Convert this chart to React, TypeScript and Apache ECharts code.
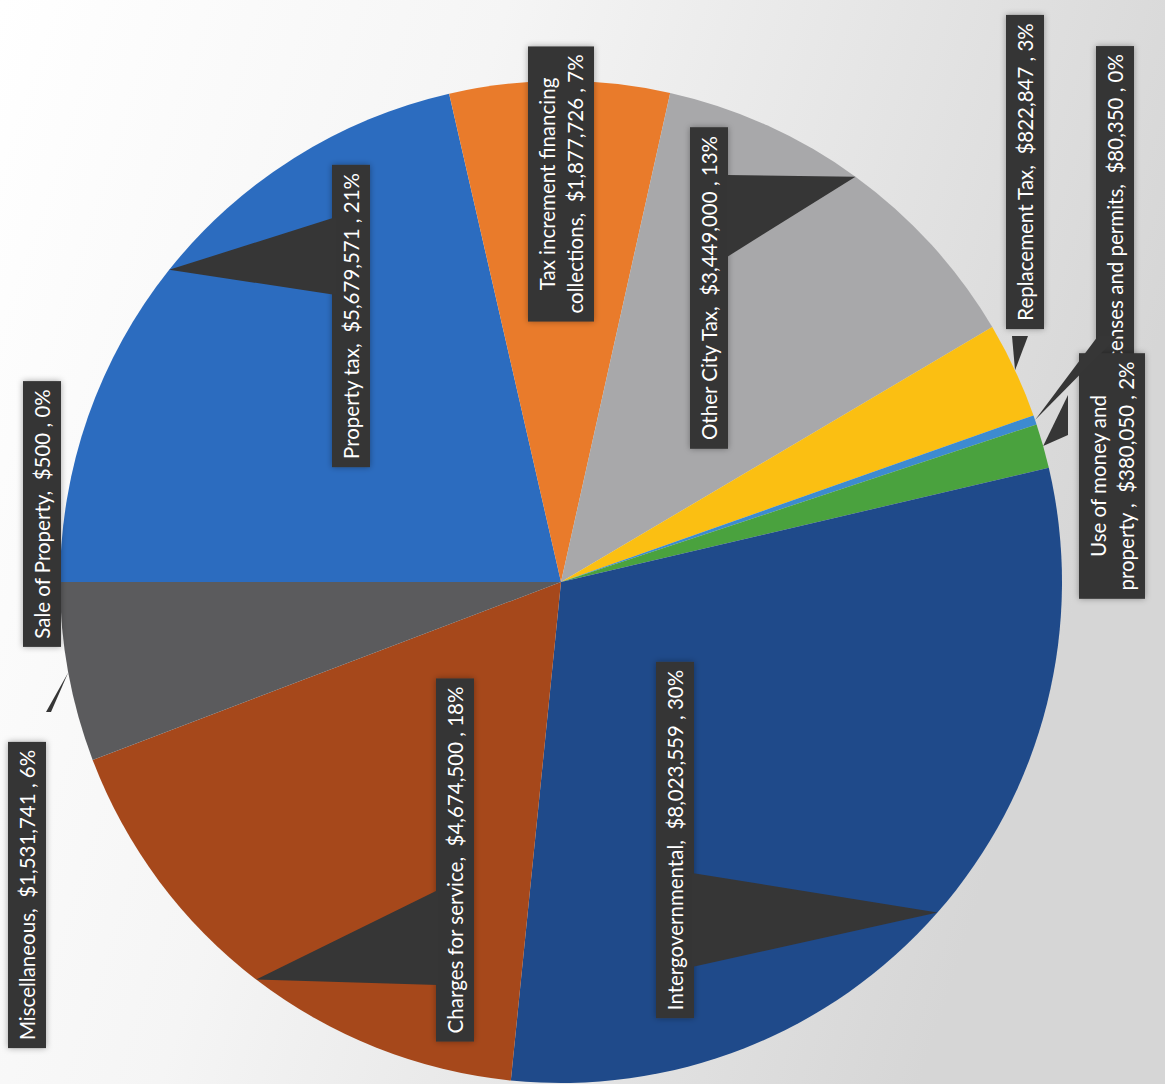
import React, { useEffect, useRef } from "react";
import * as echarts from "echarts";

// ---- data ----
const categories = [
  "Property tax",
  "Tax increment financing\ncollections",
  "Other City Tax",
  "Replacement Tax",
  "Licenses and permits",
  "Use of money and\nproperty ",
  "Intergovernmental",
  "Charges for service",
  "Miscellaneous",
  "Sale of Property",
];
const values = [5679571, 1877726, 3449000, 822847, 80350, 380050, 8023559, 4674500, 1531741, 500];
const colors = [
  "#2c6cbf", "#e97b2b", "#a8a8aa", "#fbbf12", "#3d8bd0",
  "#4aa23e", "#1f4a8a", "#a6481b", "#5b5b5d", "#997300",
];

// ---- layout (label centres, callout bases) ----
const CX = 561;
const CY = 582;
const R = 501;
const labelCenters: [number, number][] = [
  [351, 316], [561, 184], [709, 288], [1025, 172], [1115, 215],
  [1112, 476], [675, 840], [455, 860], [27, 895], [42, 514],
];
// callout wedge base points (null = no wedge)
const wedgeBases: ([number, number, number, number] | null)[] = [
  [336, 217, 336, 295],
  null,
  [727, 175, 727, 257],
  [1012, 336, 1028, 336],
  [1098, 336, 1118, 336],
  [1068, 395, 1068, 435],
  [692, 873, 692, 967],
  [438, 890, 438, 985],
  [46, 712, 51, 712],
  null,
];

const BOX = "#363636";

export default function App() {
  const ref = useRef<HTMLDivElement>(null);
  useEffect(() => {
    if (!ref.current) return;
    const chart = echarts.init(ref.current, null, { renderer: "svg" });
    const total = values.reduce((a, b) => a + b, 0);
    // callout wedges: tip at each slice's outer-edge midpoint
    const graphics: any[] = [];
    let cum = 0;
    values.forEach((v, i) => {
      const mid = (cum + v / 2) / total;
      cum += v;
      const base = wedgeBases[i];
      if (!base) return;
      const ang = ((180 - mid * 360) * Math.PI) / 180;
      const tx = CX + R * Math.cos(ang);
      const ty = CY - R * Math.sin(ang);
      graphics.push({
        type: "polygon",
        z: 3,
        shape: { points: [[base[0], base[1]], [tx, ty], [base[2], base[3]]] },
        style: { fill: BOX },
        silent: true,
      });
    });

    chart.setOption({
      animation: false,
      backgroundColor: {
        type: "linear",
        x: 0, y: 0, x2: 1, y2: 0.3,
        colorStops: [
          { offset: 0, color: "#ffffff" },
          { offset: 0.4, color: "#f5f5f5" },
          { offset: 1, color: "#d6d6d6" },
        ],
      },
      graphic: graphics,
      series: [
        {
          type: "pie",
          center: [CX, CY],
          radius: R,
          startAngle: 180,
          clockwise: true,
          avoidLabelOverlap: false,
          percentPrecision: 0,
          data: categories.map((c, i) => ({
            name: c,
            value: values[i],
            itemStyle: { color: colors[i] },
          })),
          itemStyle: { borderWidth: 0 },
          label: {
            show: true,
            position: "inside",
            rotate: 90,
            formatter: (p: any) =>
              `${p.name},  $${Number(p.value).toLocaleString("en-US")} , ${p.percent}%`,
            color: "#ffffff",
            fontFamily: "Lato",
            fontSize: 20.5,
            lineHeight: 28,
            align: "center",
            backgroundColor: BOX,
            padding: [5, 8, 5, 8],
            shadowColor: "rgba(0,0,0,0.35)",
            shadowBlur: 6,
          },
          labelLine: { show: false },
          labelLayout: (params: any) => {
            const c = labelCenters[params.dataIndex];
            return {
              x: c[0],
              y: c[1],
              rotate: 90,
              align: "center",
              verticalAlign: "middle",
            };
          },
          emphasis: { disabled: true },
        },
      ],
    });
    return () => chart.dispose();
  }, []);
  return (
    <div
      ref={ref}
      style={{ position: "absolute", left: 0, top: 0, width: 1165, height: 1084 }}
    />
  );
}
